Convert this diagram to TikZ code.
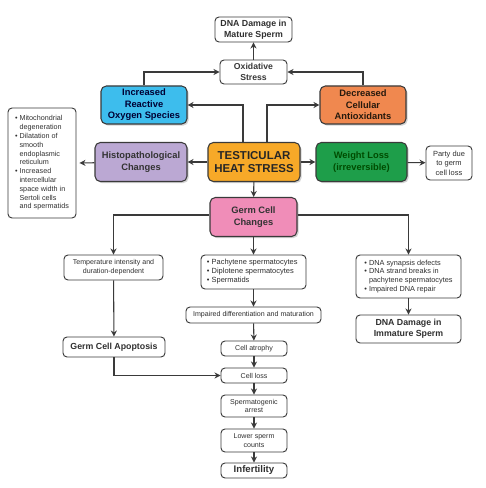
\documentclass[tikz,border=0pt]{standalone}
\usepackage{fontspec}
\setmainfont{Liberation Sans}
\usetikzlibrary{arrows.meta,shadows,calc}
\definecolor{rosc}{HTML}{3DBDED}
\definecolor{antc}{HTML}{F0884F}
\definecolor{hisc}{HTML}{BBA8D3}
\definecolor{hsc}{HTML}{F7A928}
\definecolor{wlc}{HTML}{1E9E4A}
\definecolor{gcc}{HTML}{F08DB8}
\definecolor{linec}{HTML}{3A3A3A}
\definecolor{txtc}{HTML}{303030}
\tikzset{
  wbox/.style={draw=linec, line width=0.7pt, rounded corners=3pt, fill=white, align=center,
    inner sep=1pt, text=txtc, font=\fontsize{5.3}{6.6}\selectfont},
  tbox/.style={wbox, font=\bfseries\fontsize{6.6}{8}\selectfont},
  cbox/.style={draw=linec, line width=0.8pt, rounded corners=4pt, align=center, inner sep=1pt,
    font=\bfseries\fontsize{7}{8.6}\selectfont,
    drop shadow={opacity=0.35, shadow xshift=1.2pt, shadow yshift=-1.2pt}},
  arr/.style={draw=linec, line width=0.8pt, -{Stealth[length=4.5pt,width=4.5pt]}},
}
\begin{document}
\begin{tikzpicture}[x=0.75pt,y=-0.75pt]
\useasboundingbox[fill=white] (0,0) rectangle (485,488);
% top
\node[tbox, minimum width=77*0.75pt, minimum height=25*0.75pt] (dnam) at (253.5,29.5) {DNA Damage in\\Mature Sperm};
\node[wbox, text=black!78, font=\bfseries\fontsize{6.5}{8}\selectfont, minimum width=67*0.75pt, minimum height=24*0.75pt] (oxi) at (253.5,72) {Oxidative\\Stress};
\node[cbox, fill=rosc, text=black!80!blue, minimum width=86*0.75pt, minimum height=38*0.75pt] (ros) at (144,105) {Increased\\Reactive\\Oxygen Species};
\node[cbox, fill=antc, text=black!80!brown, minimum width=86*0.75pt, minimum height=38*0.75pt] (ant) at (363,105) {Decreased\\Cellular\\Antioxidants};
% middle row
\node[cbox, fill=hisc, text=black!80, minimum width=92*0.75pt, minimum height=39*0.75pt] (his) at (141,162) {Histopathological\\Changes};
\node[cbox, fill=hsc, text=black!85, font=\bfseries\fontsize{8.6}{10.4}\selectfont, minimum width=92*0.75pt, minimum height=39*0.75pt] (hs) at (254,162) {TESTICULAR\\HEAT STRESS};
\node[cbox, fill=wlc, text=black!70!green, minimum width=91*0.75pt, minimum height=39*0.75pt] (wl) at (361.5,162) {Weight Loss\\(irreversible)};
\node[wbox, font=\fontsize{5.6}{7}\selectfont, minimum width=46*0.75pt, minimum height=34*0.75pt] (par) at (449,163) {Party due\\to germ\\cell loss};
\node[wbox, font=\fontsize{5.4}{6.6}\selectfont, align=left, minimum width=68*0.75pt, minimum height=110*0.75pt] (bul) at (42,163) {%
\textbullet\ Mitochondrial\\\phantom{\textbullet\ }degeneration\\
\textbullet\ Dilatation of\\\phantom{\textbullet\ }smooth\\\phantom{\textbullet\ }endoplasmic\\\phantom{\textbullet\ }reticulum\\
\textbullet\ Increased\\\phantom{\textbullet\ }intercellular\\\phantom{\textbullet\ }space width in\\\phantom{\textbullet\ }Sertoli cells\\\phantom{\textbullet\ }and spermatids};
% germ cell changes
\node[cbox, fill=gcc, text=black!80, minimum width=87*0.75pt, minimum height=39*0.75pt] (gc) at (253.5,217) {Germ Cell\\Changes};
\node[wbox, minimum width=99*0.75pt, minimum height=25*0.75pt] (tmp) at (113.5,267.5) {Temperature intensity and\\duration-dependent};
\node[wbox, font=\fontsize{5.6}{6.8}\selectfont, align=left, minimum width=105*0.75pt, minimum height=34*0.75pt] (pac) at (253.5,272) {\textbullet\ Pachytene spermatocytes\\\textbullet\ Diplotene spermatocytes\\\textbullet\ Spermatids\hphantom{ spermatocytes}};
\node[wbox, font=\fontsize{5.5}{6.6}\selectfont, align=left, minimum width=105*0.75pt, minimum height=43*0.75pt] (dns) at (408.5,276.5) {\textbullet\ DNA synapsis defects\\\textbullet\ DNA strand breaks in\\\phantom{\textbullet\ }pachytene spermatocytes\\\textbullet\ Impaired DNA repair};
\node[wbox, minimum width=135*0.75pt, minimum height=16*0.75pt] (imp) at (253.5,315) {Impaired differentiation and maturation};
\node[tbox, minimum width=105*0.75pt, minimum height=28*0.75pt] (dni) at (408.5,329) {DNA Damage in\\Immature Sperm};
\node[tbox, minimum width=102*0.75pt, minimum height=20*0.75pt] (apo) at (114,347) {Germ Cell Apoptosis};
\node[wbox, minimum width=66*0.75pt, minimum height=15*0.75pt] (atr) at (254,348.5) {Cell atrophy};
\node[wbox, minimum width=66*0.75pt, minimum height=15*0.75pt] (los) at (254,375.5) {Cell loss};
\node[wbox, minimum width=66*0.75pt, minimum height=22*0.75pt] (arr) at (254,406) {Spermatogenic\\arrest};
\node[wbox, minimum width=66*0.75pt, minimum height=23*0.75pt] (low) at (254,440.5) {Lower sperm\\counts};
\node[tbox, font=\bfseries\fontsize{7.2}{8.6}\selectfont, minimum width=66*0.75pt, minimum height=15*0.75pt] (inf) at (254,470.5) {Infertility};
% connectors
\draw[arr] (oxi) -- (dnam);
\draw[arr] (ros.north) |- (oxi.west);
\draw[arr] (ant.north) |- (oxi.east);
\draw[arr] ($(hs.north)+(-11,0)$) |- (ros.east);
\draw[arr] ($(hs.north)+(13,0)$) |- (ant.west);
\draw[arr] (hs) -- (his);
\draw[arr] (his) -- ($(bul.east)+(3,0)$);
\draw[arr] (hs) -- (wl);
\draw[arr] (wl) -- (par);
\draw[arr] (hs) -- (gc);
\draw[arr] ($(gc.west)+(0,-2)$) -| (tmp.north);
\draw[arr] ($(gc.east)+(0,-2)$) -| (dns.north);
\draw[arr] (gc) -- (pac);
\draw[arr] (tmp) -- (apo);
\draw[arr] (apo.south) |- (los.west);
\draw[arr] (pac) -- (imp);
\draw[arr] (imp) -- (atr);
\draw[arr] (atr) -- (los);
\draw[arr] (los) -- (arr);
\draw[arr] (arr) -- (low);
\draw[arr] (low) -- (inf);
\draw[arr] (dns) -- (dni);
\end{tikzpicture}
\end{document}
